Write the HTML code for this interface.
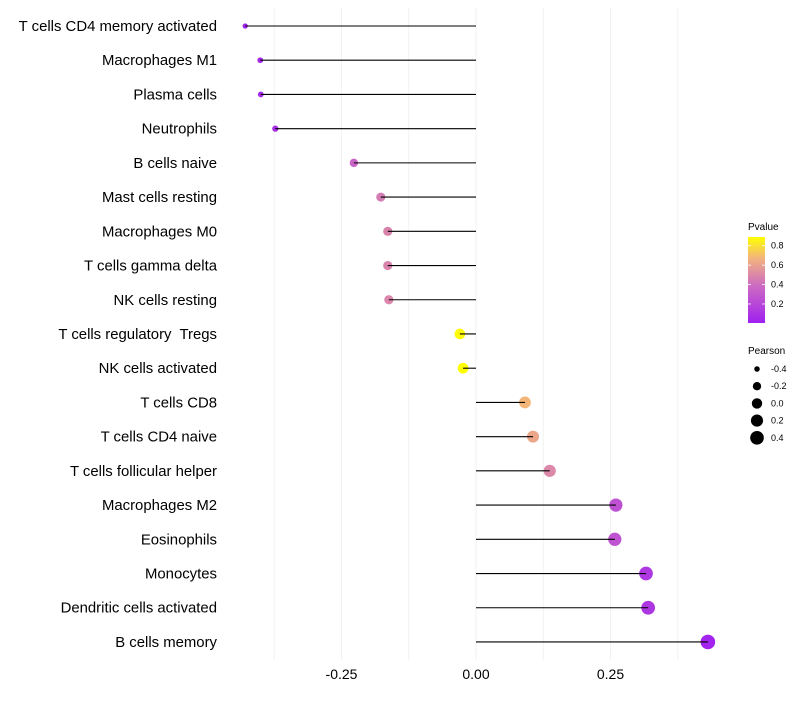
<!DOCTYPE html>
<html><head><meta charset="utf-8"><style>
body{margin:0;background:#fff;font-family:"Liberation Sans",sans-serif}
text{white-space:pre}
</style></head><body>
<svg id="chart" width="800" height="700" xmlns="http://www.w3.org/2000/svg" font-family="Liberation Sans, sans-serif">
<defs><linearGradient id="pg" x1="0" y1="1" x2="0" y2="0">
<stop offset="0" stop-color="#a020f0"/><stop offset="0.45" stop-color="#cf6fc0"/><stop offset="0.75" stop-color="#f2b37e"/><stop offset="1" stop-color="#ffff00"/></linearGradient></defs>
<g id="grid"></g>
<g id="marks"></g>
<g id="labels"></g>
<g id="xticks"></g>
<g>
<text x="748" y="230" font-size="10">Pvalue</text>
<rect x="748" y="237" width="17" height="86" fill="url(#pg)"/>
<g id="cbticks"></g>
</g>
<g id="sizeleg">
<text x="748" y="354" font-size="10">Pearson</text>
</g>
</svg>
<script>
const categories=["T cells CD4 memory activated","Macrophages M1","Plasma cells","Neutrophils","B cells naive","Mast cells resting","Macrophages M0","T cells gamma delta","NK cells resting","T cells regulatory  Tregs","NK cells activated","T cells CD8","T cells CD4 naive","T cells follicular helper","Macrophages M2","Eosinophils","Monocytes","Dendritic cells activated","B cells memory"];
const pearson=[-0.429,-0.401,-0.400,-0.373,-0.227,-0.177,-0.164,-0.164,-0.162,-0.030,-0.024,0.091,0.106,0.137,0.260,0.258,0.316,0.320,0.431];
const pvalues=[0.02,0.04,0.05,0.07,0.35,0.45,0.48,0.48,0.49,0.88,0.89,0.68,0.62,0.50,0.25,0.26,0.12,0.11,0.02];
const xTicks=[-0.25,0,0.25];
const xTickLabels=["-0.25","0.00","0.25"];
const xMinor=[-0.375,-0.125,0.125,0.375];
const cbTicks=[0.2,0.4,0.6,0.8];
const sizeLegend=[-0.4,-0.2,0.0,0.2,0.4];
const NS="http://www.w3.org/2000/svg";
const X=v=>476+v*538;
const Y=i=>26+i*34.22;
const R=v=>Math.sqrt(Math.max(4,30+54*v));
const stops=[[0,[160,32,240]],[0.4,[207,111,192]],[0.67,[242,179,126]],[0.89,[255,255,0]]];
function col(p){let a=stops[0],b=stops[stops.length-1];if(p<=a[0])return rgb(a[1]);if(p>=b[0])return rgb(b[1]);
for(let k=0;k<stops.length-1;k++){if(p>=stops[k][0]&&p<=stops[k+1][0]){a=stops[k];b=stops[k+1];break;}}
const t=(p-a[0])/(b[0]-a[0]);return rgb(a[1].map((c,j)=>Math.round(c+(b[1][j]-c)*t)));}
function rgb(c){return`rgb(${c[0]},${c[1]},${c[2]})`;}
function mk(tag,at,parent){const e=document.createElementNS(NS,tag);for(const k in at)e.setAttribute(k,at[k]);parent.appendChild(e);return e;}
const grid=document.getElementById('grid'),marks=document.getElementById('marks'),labels=document.getElementById('labels'),xt=document.getElementById('xticks');
xMinor.concat(xTicks).forEach(v=>{const l=mk('line',{x1:X(v),x2:X(v),y1:8,y2:660,stroke:'#f2f2f2','stroke-width':1},grid);

});
xTicks.forEach((v,i)=>{const t=mk('text',{x:X(v),y:679,'font-size':14,'text-anchor':'middle',fill:'#000'},xt);t.textContent=xTickLabels[i];

});
categories.forEach((c,i)=>{const y=Y(i),v=pearson[i];
const t=mk('text',{x:217,y:y+5,'font-size':14.9,'text-anchor':'end',fill:'#000'},labels);t.textContent=c;


const ci=mk('circle',{cx:X(v),cy:y,r:R(v),fill:col(pvalues[i])},marks);


const l=mk('line',{x1:X(0),x2:X(v),y1:y,y2:y,stroke:'#000','stroke-width':1.1},marks);

});
const cb=document.getElementById('cbticks');
cbTicks.forEach(p=>{const y=323-(p-0.004)/0.886*86;
const l=mk('line',{x1:748,x2:751,y1:y,y2:y,stroke:'#fff','stroke-width':0.8},cb);
const l2=mk('line',{x1:762,x2:765,y1:y,y2:y,stroke:'#fff','stroke-width':0.8},cb);
const t=mk('text',{x:771,y:y+3,'font-size':9},cb);t.textContent=p.toFixed(1);

});
const sl=document.getElementById('sizeleg');
sizeLegend.forEach((v,i)=>{const y=369+i*17.2;
const c=mk('circle',{cx:757,cy:y,r:R(v)*0.95,fill:'#000'},sl);
const t=mk('text',{x:771,y:y+3,'font-size':9},sl);t.textContent=v.toFixed(1);

});
</script>
</body></html>
